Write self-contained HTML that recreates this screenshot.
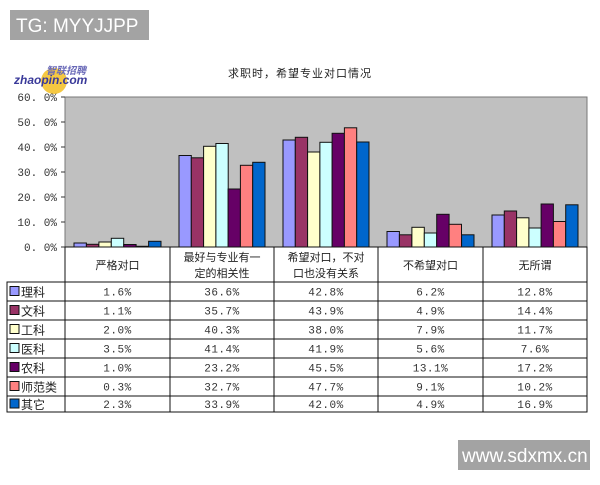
<!DOCTYPE html>
<html><head><meta charset="utf-8"><style>
body{margin:0;background:#fff;width:600px;height:480px;overflow:hidden;font-family:"Liberation Sans","Noto Sans CJK SC",sans-serif}
svg text{font-family:"Liberation Mono","Noto Sans CJK SC",monospace}
</style></head><body>
<svg id="s" width="600" height="480" xmlns="http://www.w3.org/2000/svg">
<rect x="10" y="10" width="139" height="30" fill="#a3a3a3"/>
<text x="16" y="32" font-size="19" fill="#fff" style="font-family:'Liberation Sans',sans-serif">TG: MYYJJPP</text>
<rect x="458" y="440" width="132" height="30" fill="#a3a3a3"/>
<text x="462" y="462" font-size="19" fill="#fff" style="font-family:'Liberation Sans',sans-serif">www.sdxmx.cn</text>
<circle cx="54" cy="81" r="13" fill="#f5c842"/>
<text x="46" y="74" font-size="10" fill="#6a6ab8" font-style="italic" font-weight="bold" style="font-family:'Noto Sans CJK SC',sans-serif">智联招聘</text>
<text x="14" y="84" font-size="12" fill="#3a3a9a" font-style="italic" font-weight="bold" style="font-family:'Liberation Sans',sans-serif">zhaopin.com</text>
<text x="300" y="77" font-size="11" fill="#222" text-anchor="middle" letter-spacing="1" style="font-family:'Noto Sans CJK SC',sans-serif">求职时，希望专业对口情况</text>
<rect x="65" y="97" width="522" height="150" fill="#c0c0c0" stroke="#777" stroke-width="1"/>
<g id="g"></g>
</svg>
<script>
var g=document.getElementById('g'),h='';
var cols=['#9999ff','#993366','#ffffcc','#ccffff','#660066','#ff8080','#0066cc'];
var names=['理科','文科','工科','医科','农科','师范类','其它'];
var cats=['严格对口','最好与专业有一|定的相关性','希望对口，不对|口也没有关系','不希望对口','无所谓'];
var d=[[1.6,36.6,42.8,6.2,12.8],[1.1,35.7,43.9,4.9,14.4],[2.0,40.3,38.0,7.9,11.7],[3.5,41.4,41.9,5.6,7.6],[1.0,23.2,45.5,13.1,17.2],[0.3,32.7,47.7,9.1,10.2],[2.3,33.9,42.0,4.9,16.9]];
var xs=[65,170,274,378,483,587];
for(var i=0;i<=6;i++){var y=247-i*25;h+='<line x1="61" y1="'+y+'" x2="65" y2="'+y+'" stroke="#333"/><text x="57" y="'+(y+4)+'" font-size="11" fill="#333" text-anchor="end">'+(i*10)+'. 0%</text>';}
for(var c=0;c<5;c++){var w=(xs[c+1]-xs[c]-18)/7;for(var s=0;s<7;s++){var v=d[s][c]*2.5;h+='<rect x="'+(xs[c]+9+s*w).toFixed(1)+'" y="'+(247-v).toFixed(1)+'" width="'+w.toFixed(1)+'" height="'+v.toFixed(1)+'" fill="'+cols[s]+'" stroke="#111" stroke-width="1"/>';}}
h+='<rect x="65" y="247" width="522" height="35" fill="#fff" stroke="#111"/>';
h+='<rect x="7" y="282" width="580" height="130" fill="#fff" stroke="#111"/>';
for(var c=1;c<5;c++)h+='<line x1="'+xs[c]+'" y1="247" x2="'+xs[c]+'" y2="412" stroke="#111"/>';
h+='<line x1="65" y1="282" x2="65" y2="412" stroke="#111"/>';
for(var c=0;c<5;c++){var cx=(xs[c]+xs[c+1])/2,p=cats[c].split('|');
 if(p.length==1)h+='<text x="'+cx+'" y="269" font-size="11" fill="#222" text-anchor="middle">'+p[0]+'</text>';
 else h+='<text x="'+cx+'" y="261" font-size="11" fill="#222" text-anchor="middle">'+p[0]+'</text><text x="'+cx+'" y="277" font-size="11" fill="#222" text-anchor="middle">'+p[1]+'</text>';}
var ry=[282,301,320,339,358,377,396,412];
for(var s=0;s<7;s++){var y0=ry[s],y1=ry[s+1];if(s>0)h+='<line x1="7" y1="'+y0+'" x2="587" y2="'+y0+'" stroke="#111"/>';
 var ty=(y0+y1)/2+4;
 h+='<rect x="10" y="'+(ty-9)+'" width="9" height="9" fill="'+cols[s]+'" stroke="#111"/>';
 h+='<text x="21" y="'+(ty+1)+'" font-size="12" fill="#222" style="font-family:\'Noto Sans CJK SC\',sans-serif">'+names[s]+'</text>';
 for(var c=0;c<5;c++)h+='<text x="'+((xs[c]+xs[c+1])/2)+'" y="'+ty+'" font-size="11" fill="#333" text-anchor="middle" letter-spacing="0.5">'+d[s][c].toFixed(1)+'%</text>';}
g.innerHTML=h;
</script>
</body></html>
